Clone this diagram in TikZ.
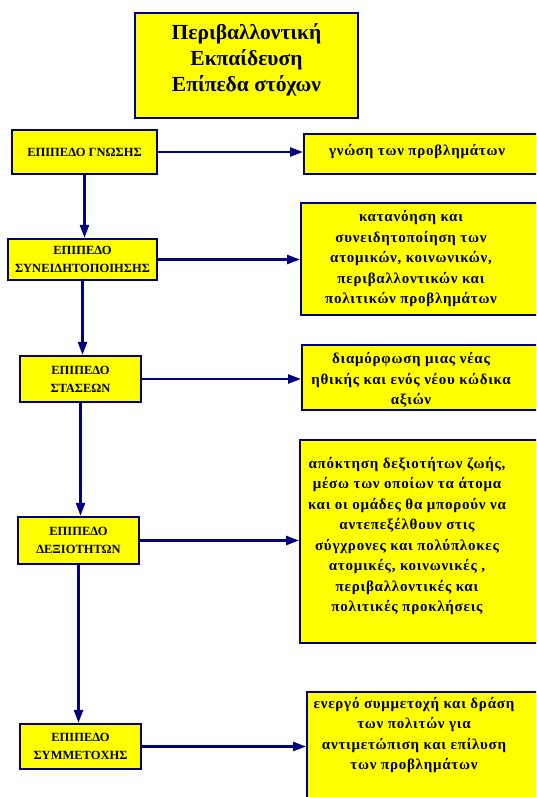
\documentclass[tikz,border=0pt]{standalone}
\usepackage{fontspec}
\setmainfont{Liberation Serif}
\newfontfamily\goalfont[LetterSpace=5]{Liberation Serif}
\usetikzlibrary{arrows.meta}
\definecolor{boxyellow}{RGB}{255,255,0}
\definecolor{linenavy}{RGB}{0,0,128}
\tikzset{
  titlebox/.style={draw=linenavy, line width=2.2pt, fill=boxyellow, align=center,
    font=\fontsize{21.5}{26}\selectfont\bfseries, inner sep=0pt},
  lvlbox/.style={draw=linenavy, line width=2.2pt, fill=boxyellow, align=center,
    font=\fontsize{12.5}{18}\selectfont\bfseries, inner sep=0pt},
  goalbox/.style={draw=linenavy, line width=2.2pt, fill=boxyellow, anchor=north west, inner sep=0pt},
  goaltext/.style={align=center, inner sep=0pt, font=\goalfont\fontsize{15}{20.5}\selectfont\bfseries},
  flow/.style={draw=linenavy, line width=2.4pt, -{Triangle[length=13pt,width=9pt]}},
}
\begin{document}
\begin{tikzpicture}[x=1pt,y=-1pt]
  \clip (0,0) rectangle (536,797);
  %
  \node[titlebox, minimum width=223pt, minimum height=105pt, text depth=16pt] (title) at (246.5,65.5)
    {Περιβαλλοντική\\Εκπαίδευση\\Επίπεδα στόχων};
  %
  \node[lvlbox, minimum width=145pt, minimum height=44pt] (l1) at (84.5,152) {ΕΠΙΠΕΔΟ ΓΝΩΣΗΣ};
  \node[lvlbox, minimum width=149pt, minimum height=41pt] (l2) at (82.5,259.5) {ΕΠΙΠΕΔΟ\\ΣΥΝΕΙΔΗΤΟΠΟΙΗΣΗΣ};
  \node[lvlbox, minimum width=121pt, minimum height=46pt] (l3) at (80.5,379) {ΕΠΙΠΕΔΟ\\ΣΤΑΣΕΩΝ};
  \node[lvlbox, minimum width=121pt, minimum height=47pt] (l4) at (78.5,540.5) {ΕΠΙΠΕΔΟ\\ΔΕΞΙΟΤΗΤΩΝ};
  \node[lvlbox, minimum width=121pt, minimum height=45pt] (l5) at (80.5,746.5) {ΕΠΙΠΕΔΟ\\ΣΥΜΜΕΤΟΧΗΣ};
  %
  \node[goalbox, minimum width=242pt, minimum height=40pt] (r1) at (303,133) {};
  \node[goalbox, minimum width=245pt, minimum height=112pt] (r2) at (300,202) {};
  \node[goalbox, minimum width=244pt, minimum height=65pt] (r3) at (301,344) {};
  \node[goalbox, minimum width=246pt, minimum height=203pt] (r4) at (299,439) {};
  \node[goalbox, minimum width=239pt, minimum height=119pt] (r5) at (306,691) {};
  %
  \node[goaltext] (r1t) at (417,152) {γνώση των προβλημάτων};
  \node[goaltext] (r2t) at (411,259) {κατανόηση και\\συνειδητοποίηση των\\ατομικών, κοινωνικών,\\περιβαλλοντικών και\\πολιτικών προβλημάτων};
  \node[goaltext] (r3t) at (411,380) {διαμόρφωση μιας νέας\\ηθικής και ενός νέου κώδικα\\αξιών};
  \node[goaltext] (r4t) at (407,536) {απόκτηση δεξιοτήτων ζωής,\\μέσω των οποίων τα άτομα\\και οι ομάδες θα μπορούν να\\αντεπεξέλθουν στις\\σύγχρονες και πολύπλοκες\\ατομικές, κοινωνικές ,\\περιβαλλοντικές και\\πολιτικές προκλήσεις};
  \node[goaltext] (r5t) at (414,735) {ενεργό συμμετοχή και δράση\\των πολιτών για\\αντιμετώπιση και επίλυση\\των προβλημάτων};
  %
  \draw[flow] (l1.south) -- (l1.south |- l2.north);
  \draw[flow] (l2.south) -- (l2.south |- l3.north);
  \draw[flow] (l3.south) -- (l3.south |- l4.north);
  \draw[flow] (l4.south) -- (l4.south |- l5.north);
  %
  \draw[flow] (l1.east) -- (l1.east -| r1.west);
  \draw[flow] (l2.east) -- (l2.east -| r2.west);
  \draw[flow] (l3.east) -- (l3.east -| r3.west);
  \draw[flow] (l4.east) -- (l4.east -| r4.west);
  \draw[flow] (l5.east) -- (l5.east -| r5.west);
\end{tikzpicture}
\end{document}
